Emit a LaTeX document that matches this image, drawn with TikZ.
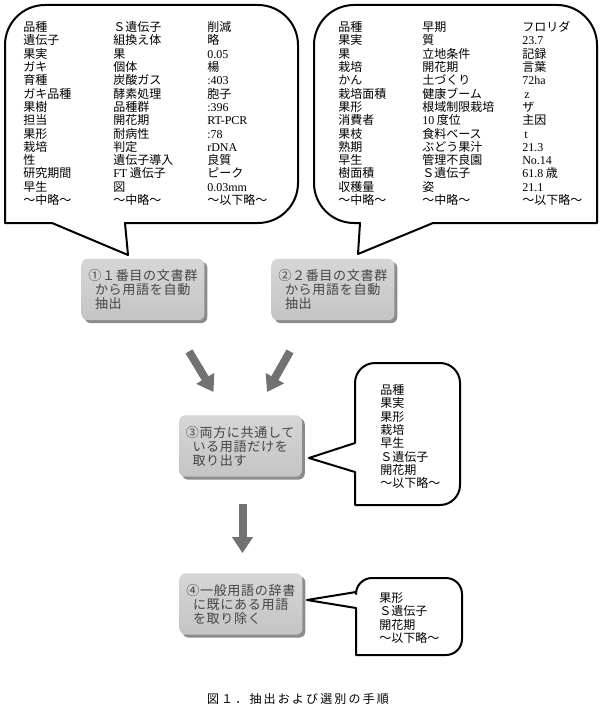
\documentclass[tikz,border=0pt]{standalone}
\usepackage{fontspec}
\setmainfont{Noto Sans CJK JP}
\newfontfamily\tmr{Liberation Serif}
\newfontfamily\boxfont[LetterSpace=5]{Noto Sans CJK JP}
\newfontfamily\capfont[LetterSpace=18]{Noto Sans CJK JP}
\usetikzlibrary{arrows.meta,shadows}
\definecolor{bxtext}{HTML}{454545}
\definecolor{arrgray}{HTML}{727272}
\newcommand\nm[1]{{\tmr #1}}
\tikzset{
  bubble/.style={draw=black,fill=white,line width=1.5pt,line join=round},
  stepbox/.style={rounded corners=4.5pt,top color=gray!32,bottom color=gray!46,draw=none,
    minimum width=92pt,minimum height=46pt,text width=82pt,inner xsep=5pt,align=left,
    font=\boxfont\fontsize{9.8}{10.5}\selectfont,text=bxtext,
    drop shadow={shadow xshift=2.2pt,shadow yshift=-2.2pt,fill=gray!80!black,opacity=.75}},
  fatarr/.style={-{Triangle[length=12pt,width=15pt]},line width=6pt,draw=arrgray},
  term/.style={anchor=base west,inner sep=0pt,font=\fontsize{9}{10}\selectfont},
}
\begin{document}
\begin{tikzpicture}[x=0.75pt,y=-0.75pt]
  \fill[white] (0,0) rectangle (606,713);
  \useasboundingbox (0,0) rectangle (606,713);

  % callouts of the two document groups
  \draw[bubble,rounded corners=30pt] (5,100) -- (5,5) -- (298,5) -- (298,223)
    [sharp corners] -- (125,223) -- (128,255) -- (52,223) -- (5,223) [rounded corners=30pt] -- cycle;
  \draw[bubble,rounded corners=30pt] (597,100) -- (597,5) -- (314,5) -- (314,223)
    [sharp corners] -- (360,223) -- (358,254) -- (433,223) -- (597,223) [rounded corners=30pt] -- cycle;

  \foreach \t [count=\i] in {品種,遺伝子,果実,ガキ,育種,ガキ品種,果樹,担当,果形,栽培,性,研究期間,早生,～中略～}
    \node[term] (la-\i) at (23,{31.6+13.3*(\i-1)}) {\t};
  \foreach \t [count=\i] in {Ｓ遺伝子,組換え体,果,個体,炭酸ガス,酵素処理,品種群,開花期,耐病性,判定,遺伝子導入,\nm{FT} 遺伝子,図,～中略～}
    \node[term] (lb-\i) at (113,{31.6+13.3*(\i-1)}) {\t};
  \foreach \t [count=\i] in {削減,略,\nm{0.05},楊,\nm{:403},胞子,\nm{:396},\nm{RT-PCR},\nm{:78},\nm{rDNA},良質,ピーク,\nm{0.03mm},～以下略～}
    \node[term] (lc-\i) at (207,{31.6+13.3*(\i-1)}) {\t};

  \foreach \t [count=\i] in {品種,果実,果,栽培,かん,栽培面積,果形,消費者,果枝,熟期,早生,樹面積,収穫量,～中略～}
    \node[term] (ra-\i) at (338,{31.6+13.3*(\i-1)}) {\t};
  \foreach \t [count=\i] in {早期,質,立地条件,開花期,土づくり,健康ブーム,根域制限栽培,\nm{10} 度位,食料ベース,ぶどう果汁,管理不良園,Ｓ遺伝子,姿,～中略～}
    \node[term] (rb-\i) at (422,{31.6+13.3*(\i-1)}) {\t};
  \foreach \t [count=\i] in {フロリダ,\nm{23.7},記録,言葉,\nm{72ha},\nm{\,z},ザ,主因,\nm{\,t},\nm{21.3},\nm{No.14},\nm{61.8} 歳,\nm{21.1},～以下略～}
    \node[term] (rc-\i) at (522,{31.6+13.3*(\i-1)}) {\t};

  % steps
  \node[stepbox] (box1) at (143,289.5) {①１番目の文書群\\\hspace*{5pt}から用語を自動\\\hspace*{5pt}抽出};
  \node[stepbox] (box2) at (333,289.5) {②２番目の文書群\\\hspace*{5pt}から用語を自動\\\hspace*{5pt}抽出};
  \node[stepbox] (box3) at (240.5,446) {③両方に共通して\\\hspace*{5pt}いる用語だけを\\\hspace*{5pt}取り出す};
  \node[stepbox] (box4) at (241,604) {④一般用語の辞書\\\hspace*{5pt}に既にある用語\\\hspace*{5pt}を取り除く};

  \draw[fatarr] ([shift={(46,31)}]box1.south) -- ([shift={(-27,-23)}]box3.north);
  \draw[fatarr] ([shift={(-43,31)}]box2.south) -- ([shift={(26.5,-23)}]box3.north);
  \draw[fatarr] ([shift={(2,27)}]box3.south) -- ([shift={(1.5,-20)}]box4.north);

  % results
  \draw[bubble,rounded corners=15pt] (460,430) -- (460,363) -- (355,363)
    [sharp corners] -- (355,443) -- (309,458) -- (355,472) -- (355,505) [rounded corners=15pt] -- (460,505) -- cycle;
  \foreach \t [count=\i] in {品種,果実,果形,栽培,早生,Ｓ遺伝子,開花期,～以下略～}
    \node[term] (c3-\i) at (380,{394.6+13.3*(\i-1)}) {\t};

  \draw[bubble,rounded corners=12pt] (462,615) -- (462,578) -- (356,578)
    [sharp corners] -- (356,592) -- (307,600) -- (356,608) -- (356,655) [rounded corners=12pt] -- (462,655) -- cycle;
  \foreach \t [count=\i] in {果形,Ｓ遺伝子,開花期,～以下略～}
    \node[term] (c4-\i) at (379,{602.6+13.3*(\i-1)}) {\t};

  \node[font=\capfont\fontsize{9}{10}\selectfont] (cap) at (298,699) {図１．抽出および選別の手順};
\end{tikzpicture}
\end{document}
